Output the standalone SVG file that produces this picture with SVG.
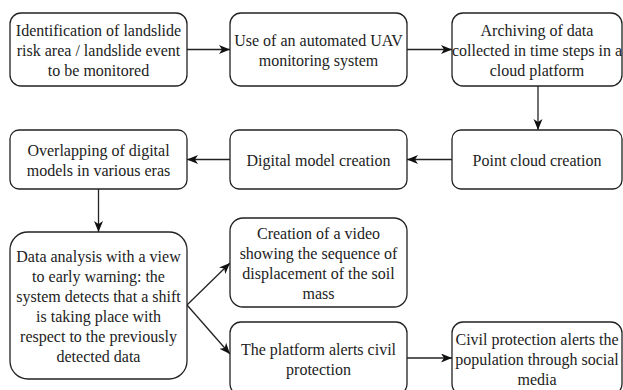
<svg xmlns="http://www.w3.org/2000/svg" width="623" height="390" viewBox="0 0 623 390">
<style>
.box{fill:#fff;stroke:#222;stroke-width:1.3}
.t{font-family:'Liberation Serif','Times New Roman',serif;font-size:16px;fill:#222;text-anchor:middle}
.c{fill:none;stroke:#222;stroke-width:1.3}
</style>
<defs>
<marker id="ah" markerUnits="userSpaceOnUse" markerWidth="12" markerHeight="10" refX="11" refY="4.5" orient="auto">
<path d="M0,0 L11,4.5 L0,9 L3,4.5 Z" fill="#111"/>
</marker>
</defs>
<rect width="623" height="390" fill="#fff"/>
<g id="connectors">
<line class="c" x1="187" y1="49.5" x2="230" y2="49.5" marker-end="url(#ah)"/>
<line class="c" x1="407" y1="49.5" x2="452" y2="49.5" marker-end="url(#ah)"/>
<line class="c" x1="538" y1="86" x2="538" y2="130" marker-end="url(#ah)"/>
<line class="c" x1="452" y1="159.5" x2="407" y2="159.5" marker-end="url(#ah)"/>
<line class="c" x1="230" y1="159.5" x2="187" y2="159.5" marker-end="url(#ah)"/>
<line class="c" x1="98.5" y1="189" x2="98.5" y2="232" marker-end="url(#ah)"/>
<line class="c" x1="187" y1="305" x2="230" y2="263" marker-end="url(#ah)"/>
<line class="c" x1="187" y1="305" x2="230" y2="354" marker-end="url(#ah)"/>
<line class="c" x1="407" y1="358" x2="452" y2="358" marker-end="url(#ah)"/>
</g>
<g id="n1">
<rect class="box" x="10" y="13" width="177" height="73" rx="11"/>
<text class="t" x="98.5" y="35.5">Identification of landslide</text>
<text class="t" x="98.5" y="55.5">risk area / landslide event</text>
<text class="t" x="98.5" y="75.5">to be monitored</text>
</g>
<g id="n2">
<rect class="box" x="230" y="13" width="177" height="73" rx="11"/>
<text class="t" x="318.5" y="45.5">Use of an automated UAV</text>
<text class="t" x="318.5" y="65.5">monitoring system</text>
</g>
<g id="n3">
<rect class="box" x="452" y="13" width="170" height="73" rx="11"/>
<text class="t" x="537" y="35.5">Archiving of data</text>
<text class="t" x="537" y="55.5">collected in time steps in a</text>
<text class="t" x="537" y="75.5">cloud platform</text>
</g>
<g id="n4">
<rect class="box" x="452" y="130" width="170" height="59" rx="9"/>
<text class="t" x="537" y="165.5">Point cloud creation</text>
</g>
<g id="n5">
<rect class="box" x="230" y="130" width="177" height="59" rx="9"/>
<text class="t" x="318.5" y="165.5">Digital model creation</text>
</g>
<g id="n6">
<rect class="box" x="10" y="130" width="177" height="59" rx="9"/>
<text class="t" x="98.5" y="155.5">Overlapping of digital</text>
<text class="t" x="98.5" y="175.5">models in various eras</text>
</g>
<g id="n7">
<rect class="box" x="10" y="232" width="177" height="147" rx="18"/>
<text class="t" x="98.5" y="261.5">Data analysis with a view</text>
<text class="t" x="98.5" y="281.5">to early warning: the</text>
<text class="t" x="98.5" y="301.5">system detects that a shift</text>
<text class="t" x="98.5" y="321.5">is taking place with</text>
<text class="t" x="98.5" y="341.5">respect to the previously</text>
<text class="t" x="98.5" y="361.5">detected data</text>
</g>
<g id="n8">
<rect class="box" x="230" y="218" width="177" height="89" rx="13"/>
<text class="t" x="318.5" y="238.5">Creation of a video</text>
<text class="t" x="318.5" y="258.5">showing the sequence of</text>
<text class="t" x="318.5" y="278.5">displacement of the soil</text>
<text class="t" x="318.5" y="298.5">mass</text>
</g>
<g id="n9">
<rect class="box" x="230" y="322" width="177" height="73" rx="11"/>
<text class="t" x="318.5" y="354.5">The platform alerts civil</text>
<text class="t" x="318.5" y="374.5">protection</text>
</g>
<g id="n10">
<rect class="box" x="452" y="322" width="170" height="73" rx="11"/>
<text class="t" x="537" y="344.5">Civil protection alerts the</text>
<text class="t" x="537" y="364.5">population through social</text>
<text class="t" x="537" y="384.5">media</text>
</g>
</svg>
